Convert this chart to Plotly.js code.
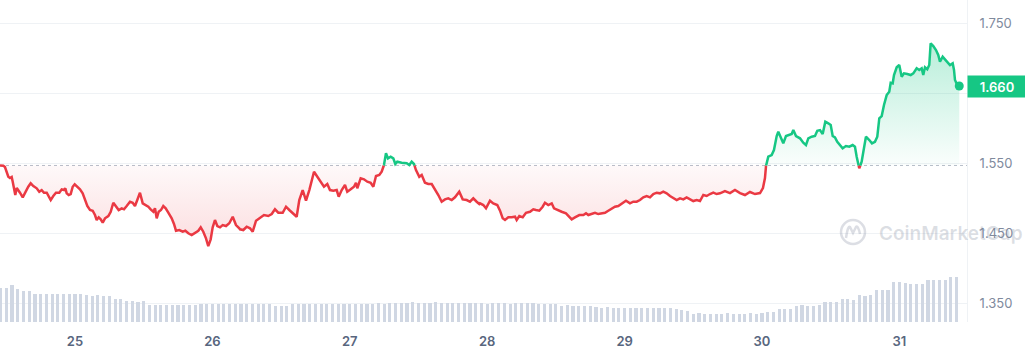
<!DOCTYPE html>
<html><head><meta charset="utf-8">
<script src="https://cdn.plot.ly/plotly-3.0.1.min.js"></script>
<style>html,body{margin:0;padding:0;background:#fff}#chart{width:1025px;height:355px}</style>
</head><body><div id="chart"></div>
<script>
// Time of each price sample, hours after 24 Jul 00:00
const hours = [
 10.90,11.48,11.77,12.07,12.35,12.65,12.94,13.12,13.35,13.57,13.82,14.10,14.39,14.87,15.27,15.84,16.26,16.72,17.31,17.76,18.18,18.59,19.06,19.51,19.76,20.21,20.68,21.26,21.68,22.08,22.31,22.55,22.90,23.25,23.60,23.95,24.40,24.87,25.34,25.80,26.15,26.62,27.09,27.49,27.79,28.14,28.49,28.84,29.24,29.82,30.24,30.69,31.16,31.63,32.16,32.56,33.03,33.61,34.08,34.48,34.88,35.35,35.83,36.28,36.80,37.22,37.68,37.97,38.27,38.62,39.02,39.42,39.84,40.30,40.89,41.29,41.64,42.22,42.81,43.27,43.79,44.38,44.96,45.54,45.96,46.41,46.88,47.28,47.70,48.05,48.45,48.86,49.33,49.80,50.38,50.95,51.55,52.12,52.70,
 52.82,53.40,53.99,54.57,55.04,55.62,56.31,57.01,57.76,58.36,58.93,59.51,60.28,60.86,61.43,62.13,62.72,63.18,63.77,64.35,64.93,65.75,66.32,66.92,67.49,68.07,68.54,69.12,69.71,70.06,70.59,71.16,71.56,72.16,72.73,73.08,73.31,73.90,74.48,75.06,75.65,76.11,76.58,77.15,77.57,77.97,78.32,78.67,79.14,79.60,79.95,80.30,81.06,81.94,82.39,82.81,83.21,83.56,84.14,84.56,85.13,85.71,86.31,86.88,87.46,88.05,88.63,89.20,89.80,90.37,91.12,91.72,92.42,92.99,93.57,94.16,94.62,
 94.74,95.32,95.79,96.49,97.06,97.76,98.24,98.71,99.11,99.69,100.28,100.86,101.15,101.61,102.20,102.78,103.48,104.05,104.52,105.10,105.69,106.09,106.67,107.27,107.67,108.24,109.01,109.76,110.34,110.76,111.33,112.09,112.79,113.26,113.66,114.25,114.83,115.41,116.00,116.58,117.15,117.75,118.32,118.90,119.49,120.24,120.94,121.52,122.11,122.69,123.27,123.86,124.44,125.02,125.61,126.18,126.76,127.35,127.93,128.51,129.10,129.68,130.26,130.84,131.42,132.00,132.59,133.17,133.75,134.34,134.92,135.49,136.08,136.66,
 137.53,138.41,139.28,140.16,141.03,141.90,142.78,143.65,144.17,144.52,144.70,145.10,145.69,146.09,146.57,146.85,147.27,147.72,148.19,148.77,149.19,149.47,149.94,150.64,151.21,151.68,152.09,152.68,153.26,153.66,154.13,154.60,155.06,155.58,156.00,156.35,156.75,157.15,157.62,158.09,158.67,159.25,159.84,160.24,160.54,160.99,161.41,161.81,162.16,162.74,163.21,163.73,164.14,164.49,164.91,165.31,165.78,166.23,166.48,166.83,167.06,167.53,167.98,168.40,168.80,169.38,169.97,170.43,171.02,171.47,171.89,172.17,172.47,172.87,173.22,173.46,173.92,174.39,174.79,175.09,175.56,175.96,176.37,176.84,177.31,177.54,177.71,178.11,178.46
];
const prices = [
 1.5465,1.5462,1.5443,1.5376,1.5304,1.5286,1.5300,1.5233,1.5143,1.5043,1.5143,1.5114,1.5076,1.5010,1.5076,1.5161,1.5210,1.5171,1.5139,1.5090,1.5114,1.5076,1.5076,1.5019,1.4971,1.5029,1.5076,1.5076,1.5124,1.5114,1.5139,1.5067,1.5043,1.5057,1.5161,1.5196,1.5161,1.5124,1.5067,1.4971,1.4886,1.4829,1.4819,1.4757,1.4686,1.4724,1.4696,1.4647,1.4710,1.4743,1.4804,1.4933,1.4876,1.4829,1.4853,1.4839,1.4886,1.4947,1.4933,1.4886,1.4971,1.5076,1.4924,1.4900,1.4876,1.4839,1.4804,1.4853,1.4710,1.4804,1.4829,1.4886,1.4853,1.4790,1.4710,1.4629,1.4533,1.4543,1.4519,1.4533,1.4496,1.4471,1.4504,1.4533,1.4581,1.4519,1.4424,1.4314,1.4410,1.4581,1.4686,1.4600,1.4581,1.4614,1.4600,1.4639,1.4733,1.4614,1.4567,
 1.4553,1.4543,1.4590,1.4567,1.4519,1.4676,1.4710,1.4757,1.4743,1.4771,1.4839,1.4790,1.4790,1.4876,1.4829,1.4771,1.4733,1.4971,1.5114,1.4962,1.5114,1.5376,1.5304,1.5233,1.5161,1.5200,1.5114,1.5105,1.5114,1.5019,1.5114,1.5186,1.5090,1.5124,1.5161,1.5219,1.5139,1.5281,1.5267,1.5233,1.5219,1.5161,1.5314,1.5329,1.5376,1.5471,1.5639,1.5567,1.5590,1.5567,1.5486,1.5519,1.5504,1.5496,1.5471,1.5519,1.5486,1.5400,1.5304,1.5329,1.5219,1.5200,1.5200,1.5124,1.5043,1.4947,1.4981,1.4996,1.4971,1.5010,1.5090,1.4981,1.4971,1.4947,1.4996,1.4947,1.4914,
 1.4924,1.4900,1.4853,1.4962,1.4924,1.4900,1.4819,1.4710,1.4686,1.4724,1.4724,1.4733,1.4686,1.4743,1.4724,1.4790,1.4804,1.4839,1.4829,1.4819,1.4876,1.4933,1.4900,1.4924,1.4853,1.4829,1.4804,1.4781,1.4724,1.4696,1.4724,1.4757,1.4757,1.4781,1.4757,1.4771,1.4790,1.4771,1.4781,1.4790,1.4819,1.4853,1.4876,1.4886,1.4914,1.4962,1.4924,1.4947,1.4947,1.4971,1.5010,1.5029,1.5010,1.5057,1.5076,1.5067,1.5090,1.5067,1.5029,1.4996,1.4971,1.4996,1.4981,1.5010,1.4981,1.4957,1.4971,1.4957,1.5043,1.5029,1.5057,1.5076,1.5057,1.5067,
 1.5100,1.5071,1.5114,1.5071,1.5043,1.5086,1.5057,1.5071,1.5143,1.5286,1.5457,1.5590,1.5614,1.5686,1.5886,1.5947,1.5867,1.5781,1.5886,1.5900,1.5914,1.5971,1.5886,1.5853,1.5790,1.5757,1.5853,1.5876,1.5886,1.5961,1.5971,1.5914,1.6090,1.6067,1.6043,1.5886,1.5867,1.5804,1.5757,1.5710,1.5743,1.5733,1.5757,1.5733,1.5590,1.5424,1.5519,1.5710,1.5876,1.5829,1.5781,1.5804,1.5876,1.6139,1.6171,1.6329,1.6471,1.6519,1.6647,1.6639,1.6757,1.6867,1.6900,1.6733,1.6781,1.6771,1.6757,1.6781,1.6853,1.6829,1.6853,1.6757,1.6867,1.6839,1.6900,1.7210,1.7171,1.7114,1.7043,1.6947,1.7019,1.6981,1.6947,1.6900,1.6924,1.6829,1.6686,1.6614,1.6600
];
// Hourly volume (relative units), first bar at hour 11
const volStartHour = 11;
const volumes = [
 26.4,26.6,28.7,25.6,24.1,24.0,
 22.1,22.0,22.1,21.9,22.0,21.8,22.0,21.9,21.8,
 20.6,20.5,20.6,20.4,20.3,
 18.2,18.0,
 16.1,16.0,15.9,16.0,
 13.4,13.3,13.5,13.4,13.2,13.4,13.3,13.5,13.4,
 14.2,14.1,14.3,14.2,14.2,14.1,14.3,14.2,14.0,14.1,14.2,14.3,14.1,
 12.2,12.1,12.3,
 14.2,14.1,14.3,14.2,14.2,14.0,14.1,14.3,14.2,14.1,14.2,14.3,14.2,14.1,14.2,14.4,14.3,14.5,14.6,
 15.1,15.0,15.2,15.1,15.1,15.0,15.2,15.1,15.0,15.1,15.0,14.9,14.8,
 14.4,14.5,14.3,14.4,14.4,14.5,14.3,14.4,14.6,14.5,14.4,14.3,14.2,14.0,13.6,
 12.8,12.9,12.7,12.8,12.6,12.4,12.0,
 11.2,11.3,11.1,11.2,11.2,11.0,11.1,11.2,11.1,11.0,10.9,10.8,10.6,10.2,9.4,8.2,
 6.6,6.7,6.5,6.6,6.6,6.5,6.7,6.6,6.5,6.6,6.7,6.6,6.8,
 7.8,8.0,
 10.1,10.0,10.3,
 12.8,12.9,12.8,12.7,12.9,
 15.5,15.4,15.7,
 17.5,17.6,17.4,
 20.6,20.5,20.8,
 24.8,24.6,25.0,
 30.7,31.0,
 29.9,29.8,29.6,29.7,
 32.6,32.5,32.7,32.8,
 34.9,35.2
];
const dayTicks = ['25','26','27','28','29','30','31'];
const dayTickHours = [24,48,72,96,120,144,168];
const priceTicks = [1.35,1.45,1.55,1.65,1.75];
const priceTickText = ['1.350','1.450','1.550','','1.750'];

const RED = '#ea3943', GREEN = '#16c784';
const t0 = Date.UTC(2023,6,24);
const toStr = ms => new Date(ms).toISOString().slice(0,23).replace('T',' ');
const hToStr = h => toStr(t0 + h*3600000);

const n = Math.min(hours.length, prices.length);
const base = prices[0];
const ax = [], ay = [];
for (let i = 0; i < n; i++) {
  const m = t0 + hours[i]*3600000;
  ax.push(m); ay.push(prices[i]);
  if (i < n-1) {
    const a = prices[i]-base, b = prices[i+1]-base;
    if (a*b < 0) {
      const m2 = t0 + hours[i+1]*3600000;
      const t = a/(a-b);
      ax.push(m + t*(m2-m)); ay.push(base);
    }
  }
}
const xs = ax.map(toStr);
const baseX = [xs[0], xs[xs.length-1]];
const pMax = Math.max(...prices.slice(0,n)), pMin = Math.min(...prices.slice(0,n));

const traces = [
  {x: baseX, y:[base,base], mode:'lines', line:{width:0}, hoverinfo:'skip'},
  {x: xs, y: ay.map(v=>Math.max(v,base)), mode:'lines', line:{width:0}, fill:'tonexty',
   fillgradient:{type:'vertical', start: base, stop: pMax,
     colorscale:[[0,'rgba(22,199,132,0.02)'],[1,'rgba(22,199,132,0.30)']]}, hoverinfo:'skip'},
  {x: baseX, y:[base,base], mode:'lines', line:{width:0}, hoverinfo:'skip'},
  {x: xs, y: ay.map(v=>Math.min(v,base)), mode:'lines', line:{width:0}, fill:'tonexty',
   fillgradient:{type:'vertical', start: pMin, stop: base,
     colorscale:[[0,'rgba(234,57,67,0.17)'],[1,'rgba(234,57,67,0.03)']]}, hoverinfo:'skip'},
  {x: xs, y: ay.map(v=> v<=base ? v : null), mode:'lines', line:{color:RED, width:2.5, shape:'linear'}, connectgaps:false, hoverinfo:'skip'},
  {x: xs, y: ay.map(v=> v>=base ? v : null), mode:'lines', line:{color:GREEN, width:2.5, shape:'linear'}, connectgaps:false, hoverinfo:'skip'},
  {x: [hToStr(hours[n-1])], y:[prices[n-1]], mode:'markers', marker:{color:GREEN, size:9}, cliponaxis:false, hoverinfo:'skip'},
  {type:'bar', x: volumes.map((v,i)=>hToStr(volStartHour+i)), y: volumes, yaxis:'y2',
   width: 0.55*3600000, marker:{color:'#d0d7e3', line:{width:0}}, hoverinfo:'skip'}
];

const plotH = 322, plotW = 967;
const last = prices[n-1];
const wmColor = 'rgba(128,138,157,0.28)';
const layout = {
  width:1025, height:355,
  margin:{l:0, r:58, t:0, b:33, pad:0},
  paper_bgcolor:'#ffffff', plot_bgcolor:'#ffffff',
  showlegend:false, bargap:0,
  font:{family:'Inter, "Open Sans", sans-serif'},
  xaxis:{type:'date', range:[hToStr(10.90), hToStr(179.81)],
    tickvals: dayTickHours.map(hToStr), ticktext: dayTicks,
    showgrid:false, zeroline:false, showline:false,
    ticks:'outside', ticklen:7, tickcolor:'rgba(0,0,0,0)',
    tickfont:{size:13, color:'#58667e', weight:600}},
  yaxis:{side:'right', range:[1.3229, 1.7829],
    tickvals: priceTicks, ticktext: priceTickText,
    showgrid:true, gridcolor:'#eff2f5', gridwidth:1, zeroline:false,
    showline:true, linecolor:'#eff2f5', linewidth:1,
    ticks:'outside', ticklen:9, tickcolor:'rgba(0,0,0,0)',
    tickfont:{size:13, color:'#808a9d'}},
  yaxis2:{overlaying:'y', range:[0,250], visible:false, showgrid:false},
  shapes:[
    {type:'line', xref:'paper', x0:0, x1:1, yref:'y', y0:base, y1:base,
     line:{color:'#b8bec9', width:1, dash:'dot'}, layer:'below'},
    {type:'circle', xref:'paper', yref:'paper', xsizemode:'pixel', ysizemode:'pixel',
     xanchor: 853/plotW, yanchor:(plotH-232)/plotH, x0:-12, x1:12, y0:-12, y1:12,
     line:{color:wmColor, width:2.5}},
    {type:'path', xref:'paper', yref:'paper', xsizemode:'pixel', ysizemode:'pixel',
     xanchor: 853/plotW, yanchor:(plotH-232)/plotH,
     path:'M -7 -6 Q -5 7 -3 5 L 0 -1 L 3 5 Q 5 7 7 -2',
     line:{color:wmColor, width:2.5}}
  ],
  annotations:[
    {xref:'paper', x:1, xanchor:'left', yref:'y', y:last, yanchor:'middle',
     text: last.toFixed(3), showarrow:false, bgcolor:GREEN, borderpad:3,
     width:52, height:15, align:'center',
     font:{color:'#ffffff', size:13, weight:600}},
    {xref:'paper', yref:'paper', x:877/plotW, xanchor:'left', y:(plotH-233)/plotH, yanchor:'middle',
     text:'CoinMarketCap', showarrow:false, font:{size:19, color:wmColor, weight:600}}
  ]
};
Plotly.newPlot('chart', traces, layout, {staticPlot:true, displayModeBar:false});
</script>
</body></html>
